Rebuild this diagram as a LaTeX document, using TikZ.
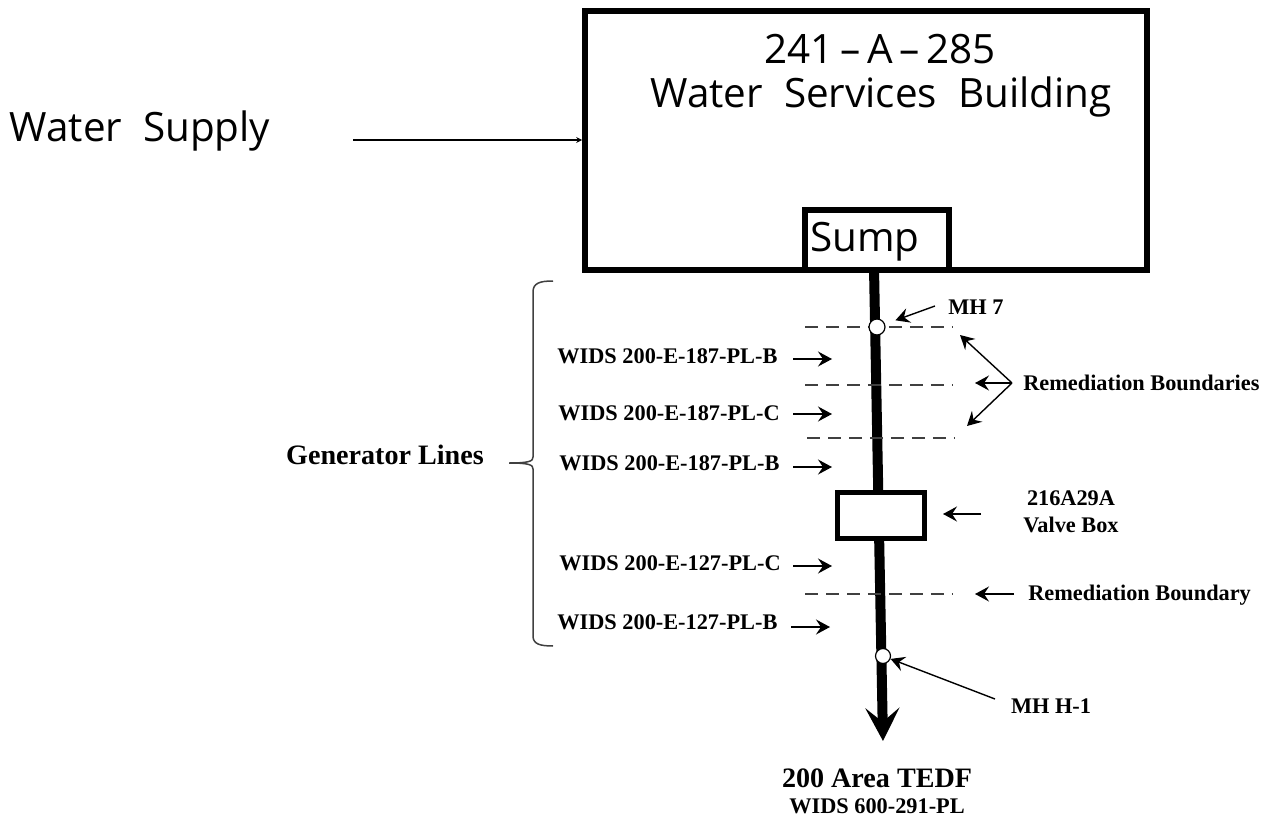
\documentclass[tikz,border=0pt]{standalone}
\usepackage{fontspec}
\setmainfont{Liberation Serif}
\newfontfamily\cadfont{Open Sans}
\usetikzlibrary{arrows.meta, positioning, calc}
\tikzset{
  wall/.style={draw, line width=1.15mm, inner sep=0pt},
  flowarrow/.style={-{Stealth[length=2.8mm, width=3mm, inset=1mm]}, line width=0.28mm},
  bndline/.style={dash pattern=on 2.6mm off 1.6mm, line width=0.28mm, black!75},
  pipe/.style={line width=2mm},
  manhole/.style={circle, draw, fill=white, line width=0.24mm, minimum size=3.2mm, inner sep=0pt},
  labelbf/.style={font=\bfseries\fontsize{12.7}{15.3}\selectfont, inner sep=0pt, align=center},
  labelbig/.style={labelbf, font=\bfseries\fontsize{16}{18}\selectfont},
  cadtext/.style={font=\cadfont\fontsize{23}{27}\selectfont, inner sep=0pt}
}
\begin{document}
\begin{tikzpicture}[x=0.02cm, y=-0.02cm]
\useasboundingbox (0,0) rectangle (1275,821);

% building and sump
\node[wall, minimum width=11.24cm, minimum height=5.18cm] (building) at (866,140.5) {};
\node[wall, fill=white, minimum width=2.89cm, minimum height=1.2cm] (sump) at (877,240) {};
\node[cadtext] (bldgno) at (880,49) {241\,–\,A\,–\,285};
\node[cadtext] (bldgname) at (881,97) {Water \ Services \ Building};
\node[cadtext, anchor=west] (sumplabel) at (810,242) {Sump};

% water supply
\node[cadtext] (supply) at (140,131) {Water \ Supply};
\coordinate (supplystart) at (353,140);
\draw[-{Stealth[length=1.2mm, width=1.2mm]}, line width=0.28mm] (supplystart) -- (supplystart -| building.west);

% pipe down to the TEDF
\coordinate (pipetop) at (874,268);
\coordinate (pipeend) at (883,741);
\draw[pipe, -{Stealth[length=6.6mm, width=6.8mm, inset=2.8mm]}] (pipetop) -- (pipeend);
\node[wall, fill=white, line width=1mm, minimum width=1.75cm, minimum height=0.92cm] (valvebox) at (881,515.5) {};

% remediation boundaries
\coordinate (bnda) at (805,327);
\coordinate (bndb) at (805,385);
\coordinate (bndc) at (807,438);
\coordinate (bndd) at (805,594);
\draw[bndline] (bnda) -- ++(147,0);
\draw[bndline] (bndb) -- ++(147,0);
\draw[bndline] (bndc) -- ++(147,0);
\draw[bndline] (bndd) -- ++(147,0);

% manholes
\node[manhole] (mhseven) at (877,327) {};
\node[manhole, minimum size=3mm] (mhone) at (883,656) {};

% generator lines
\node[labelbf, anchor=west] (widsa) at (557,356) {WIDS 200-E-187-PL-B};
\node[labelbf, anchor=west] (widsb) at (558,413) {WIDS 200-E-187-PL-C};
\node[labelbf, anchor=west] (widsc) at (559,463) {WIDS 200-E-187-PL-B};
\node[labelbf, anchor=west] (widsd) at (559,563) {WIDS 200-E-127-PL-C};
\node[labelbf, anchor=west] (widse) at (557,622) {WIDS 200-E-127-PL-B};
\coordinate (tipa) at (832,359);
\coordinate (tipb) at (832,414);
\coordinate (tipc) at (832,467);
\coordinate (tipd) at (832,566);
\coordinate (tipe) at (830,627);
\draw[flowarrow] (793,359) -- (tipa);
\draw[flowarrow] (793,414) -- (tipb);
\draw[flowarrow] (793,467) -- (tipc);
\draw[flowarrow] (793,566) -- (tipd);
\draw[flowarrow] (791,627) -- (tipe);

% brace
\node[labelbig] (genlines) at (385,455) {Generator Lines};
\draw[line width=0.3mm, black!75] (553,281) .. controls (540,281) and (533,283) .. (533,292)
  -- (533,457) .. controls (533,461) and (530,463) .. (509,463)
  .. controls (530,463) and (533,465) .. (533,469) -- (533,636)
  .. controls (533,644) and (540,646) .. (553,646);

% right side labels
\node[labelbf] (mhsevenlabel) at (976,307) {MH 7};
\draw[flowarrow, shorten >=2.2mm] (935,306) -- (mhseven);
\node[labelbf, anchor=west] (remlabel) at (1023,383) {Remediation Boundaries};
\coordinate (remjoin) at (1012,383);
\draw[flowarrow] (remjoin) -- (960,335);
\draw[flowarrow] (remjoin) -- (975,383);
\draw[flowarrow] (remjoin) -- (967,426);
\node[labelbf, anchor=west] (rembnd) at (1028,595) {Remediation Boundary};
\draw[flowarrow] (1014,594) -- (975,594);
\node[labelbf] (valvelabel) at (1071,512) {216A29A\\Valve Box};
\draw[flowarrow] (981,514) -- (943,514);
\node[labelbf] (mhonelabel) at (1051,706) {MH H-1};
\draw[flowarrow] (995,699) -- (mhone);

% outlet
\node[labelbig] (tedf) at (877,778) {200 Area TEDF};
\node[labelbf] (tedfline) at (877,806) {WIDS 600-291-PL};
\end{tikzpicture}
\end{document}
